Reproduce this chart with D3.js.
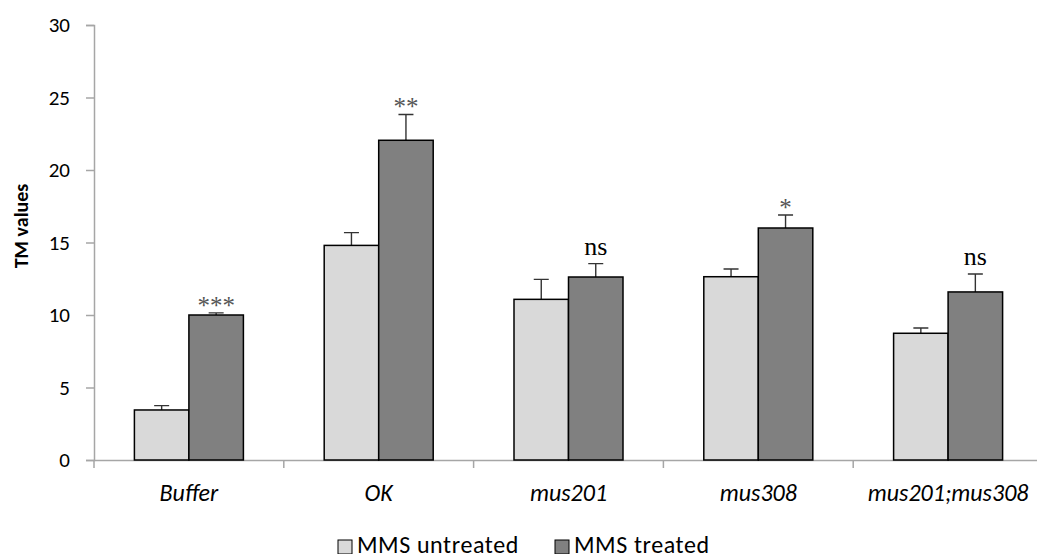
<!DOCTYPE html>
<html>
	<head>
		<meta charset="utf-8">
		<script src="https://d3js.org/d3.v7.min.js"></script>
		<style>
			body { margin: 0; background: #fff; }
		</style>
	</head>
	<body>
		<script>
			// Datos
			var categories = ["Buffer", "OK", "mus201", "mus308", "mus201;mus308"];
			var series = ["MMS untreated", "MMS treated"];
			var untreated = [3.45, 14.8, 11.08, 12.64, 8.74];
			var untreatedErr = [0.3, 0.88, 1.38, 0.53, 0.36];
			var treated = [10.0, 22.05, 12.62, 16.0, 11.59];
			var treatedErr = [0.15, 1.78, 0.92, 0.9, 1.24];
			var signif = ["***", "**", "ns", "*", "ns"];
			var yTicks = [0, 5, 10, 15, 20, 25, 30];

			var colors = ["#d9d9d9", "#808080"];
			var width = 1037, height = 554;
			var mLeft = 94, mRight = 1043, mTop = 25, mBottom = 460;
			var sansFont = "Carlito, Lato, sans-serif";

			var svg = d3.select("body").append("svg")
				.attr("width", width)
				.attr("height", height);

			var x = d3.scaleBand().domain(categories).range([mLeft, mRight]);
			var xs = d3.scaleBand().domain(series).range([0, 109]);
			var y = d3.scaleLinear().domain([0, 30]).range([mBottom, mTop]);

			// ejes
			var yAxis = svg.append("g")
				.attr("transform", "translate(" + mLeft + ",0)")
				.call(d3.axisLeft(y).tickValues(yTicks).tickSize(8).tickPadding(16));
			yAxis.selectAll("text")
				.style("font-family", sansFont)
				.style("font-size", "21px")
				.attr("fill", "#000");

			var xAxis = svg.append("g")
				.attr("transform", "translate(0," + mBottom + ")")
				.call(d3.axisBottom(x).tickSize(0).tickFormat(""));
			// ticks entre categorías
			xAxis.selectAll(".sep")
				.data(categories)
				.enter().append("line")
				.attr("class", "sep")
				.attr("x1", function(d){ return x(d); })
				.attr("x2", function(d){ return x(d); })
				.attr("y1", 0).attr("y2", 8);

			svg.selectAll(".domain, .tick line, .sep")
				.attr("stroke", "#a6a6a6")
				.attr("stroke-width", 1.5);

			svg.selectAll(".cat")
				.data(categories)
				.enter().append("text")
				.attr("x", function(d){ return x(d) + x.bandwidth() / 2; })
				.attr("y", 501)
				.attr("text-anchor", "middle")
				.style("font-family", sansFont)
				.style("font-size", "24px")
				.style("font-style", "italic")
				.text(function(d){ return d; });

			svg.append("text")
				.attr("transform", "translate(28,226) rotate(-90)")
				.attr("text-anchor", "middle")
				.style("font-family", sansFont)
				.style("font-size", "20px")
				.style("font-weight", "bold")
				.text("TM values");

			// barras
			var rows = categories.map(function(c, i){
				return [
					{ cat: c, s: series[0], v: untreated[i], e: untreatedErr[i], col: colors[0] },
					{ cat: c, s: series[1], v: treated[i], e: treatedErr[i], col: colors[1] }
				];
			});
			var offset = (x.bandwidth() - 109) / 2;

			var groups = svg.selectAll(".grp")
				.data(rows)
				.enter().append("g")
				.attr("transform", function(d){ return "translate(" + (x(d[0].cat) + offset) + ",0)"; });

			// barras de error (solo hacia arriba)
			groups.selectAll(".err")
				.data(function(d){ return d; })
				.enter().append("path")
				.attr("d", function(d){
					var cx = xs(d.s) + xs.bandwidth() / 2;
					return "M" + cx + "," + y(d.v) + "V" + y(d.v + d.e) +
						"M" + (cx - 7.5) + "," + y(d.v + d.e) + "H" + (cx + 7.5);
				})
				.attr("stroke", "#333")
				.attr("stroke-width", 1.4)
				.attr("fill", "none");

			groups.selectAll("rect")
				.data(function(d){ return d; })
				.enter().append("rect")
				.attr("x", function(d){ return xs(d.s); })
				.attr("y", function(d){ return y(d.v); })
				.attr("width", xs.bandwidth())
				.attr("height", function(d){ return y(0) - y(d.v); })
				.attr("fill", function(d){ return d.col; })
				.attr("stroke", "#000")
				.attr("stroke-width", 1.5);

			// significancia
			groups.append("text")
				.attr("x", function(){ return xs(series[1]) + xs.bandwidth() / 2; })
				.attr("y", function(d, i){
					var t = y(d[1].v + d[1].e);
					return signif[i] === "ns" ? t - 9 : t + 1;
				})
				.attr("text-anchor", "middle")
				.attr("fill", function(d, i){ return signif[i] === "ns" ? "#000" : "#555"; })
				.style("font-family", "'Liberation Serif', 'DejaVu Serif', serif")
				.style("font-size", function(d, i){ return signif[i] === "ns" ? "26px" : "25px"; })
				.text(function(d, i){ return signif[i]; });

			// leyenda
			var legendX = [338, 555];
			var leg = svg.selectAll(".leg")
				.data(series)
				.enter().append("g")
				.attr("transform", function(d, i){ return "translate(" + legendX[i] + ",540)"; });
			leg.append("rect")
				.attr("width", 14).attr("height", 14)
				.attr("fill", function(d, i){ return colors[i]; })
				.attr("stroke", "#000")
				.attr("stroke-width", 1);
			leg.append("text")
				.attr("x", 19)
				.attr("y", 13)
				.style("font-family", sansFont)
				.style("font-size", "24px")
				.style("letter-spacing", "0.6px")
				.text(function(d){ return d; });
		</script>
	</body>
</html>
